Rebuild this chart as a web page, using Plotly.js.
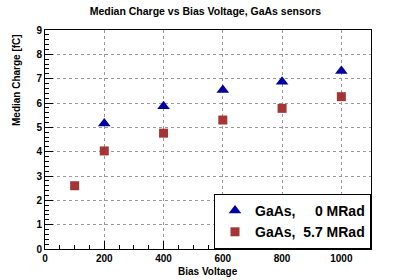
<!DOCTYPE html>
<html>
<head>
<meta charset="utf-8">
<script src="https://cdn.plot.ly/plotly-3.0.1.min.js"></script>
<style>html,body{margin:0;padding:0;background:#fff}</style>
</head>
<body>
<div id="chart" style="width:415px;height:280px"></div>
<script>
var voltage0 = [200, 400, 600, 800, 1000];
var charge0 = [5.16, 5.87, 6.53, 6.87, 7.31];
var voltage57 = [100, 200, 400, 600, 800, 1000];
var charge57 = [2.6, 4.03, 4.76, 5.3, 5.78, 6.26];
var seriesNames = ['GaAs,\u00A0\u00A0\u00A0\u00A0\u00A00 MRad', 'GaAs,\u00A0\u00A05.7 MRad'];
var xTicks = [0, 200, 400, 600, 800, 1000];
var yTicks = [0, 1, 2, 3, 4, 5, 6, 7, 8, 9];

var fam = 'Liberation Sans, Arial, sans-serif';
var traces = [
  {x: voltage0, y: charge0, name: seriesNames[0], type: 'scatter', mode: 'markers',
   marker: {symbol: 'triangle-up', size: 11, color: '#0000a0'}},
  {x: voltage57, y: charge57, name: seriesNames[1], type: 'scatter', mode: 'markers',
   marker: {symbol: 'square', size: 9, color: '#a33535'}}
];
var axisCommon = {
  showline: true, linecolor: '#000', linewidth: 1, mirror: true,
  ticks: 'inside', ticklen: 8, tickcolor: '#000', tickwidth: 1,
  showgrid: true, gridcolor: '#999', griddash: 'dot', gridwidth: 1,
  zeroline: false,
  tickfont: {family: fam, size: 10, color: '#000', weight: 'bold'}
};
var layout = {
  width: 415, height: 280,
  margin: {l: 45, r: 44, t: 30, b: 31},
  paper_bgcolor: '#fff', plot_bgcolor: '#fff',
  showlegend: true,
  title: {text: 'Median Charge vs Bias Voltage, GaAs sensors', x: 0.495, xanchor: 'center', y: 0.96, yanchor: 'middle',
          font: {family: fam, size: 10.5, color: '#000', weight: 'bold'}},
  xaxis: Object.assign({}, axisCommon, {
    range: [0, 1100], tickvals: xTicks, ticktext: xTicks.map(String),
    minor: {dtick: 50, ticks: 'inside', ticklen: 4, tickcolor: '#000', showgrid: false}
  }),
  yaxis: Object.assign({}, axisCommon, {
    range: [0, 9], tickvals: yTicks, ticktext: yTicks.map(String),
    minor: {dtick: 0.2, ticks: 'inside', ticklen: 4, tickcolor: '#000', showgrid: false}
  }),
  legend: {x: 1, xanchor: 'right', y: 0, yanchor: 'bottom', bgcolor: '#fff', bordercolor: '#000', borderwidth: 1,
           font: {family: fam, size: 14, color: '#000', weight: 'bold'}},
  annotations: [
    {text: 'Bias Voltage', xref: 'paper', yref: 'paper', x: 0.5, y: 0, yshift: -22, xanchor: 'center', yanchor: 'middle',
     showarrow: false, font: {family: fam, size: 10, color: '#000', weight: 'bold'}},
    {text: 'Median Charge [fC]', xref: 'paper', yref: 'paper', x: 0, xshift: -29, y: 1, yshift: -2, xanchor: 'center', yanchor: 'top',
     textangle: -90, showarrow: false, font: {family: fam, size: 10, color: '#000', weight: 'bold'}}
  ]
};
Plotly.newPlot('chart', traces, layout, {displayModeBar: false, staticPlot: true});
</script>
</body>
</html>
